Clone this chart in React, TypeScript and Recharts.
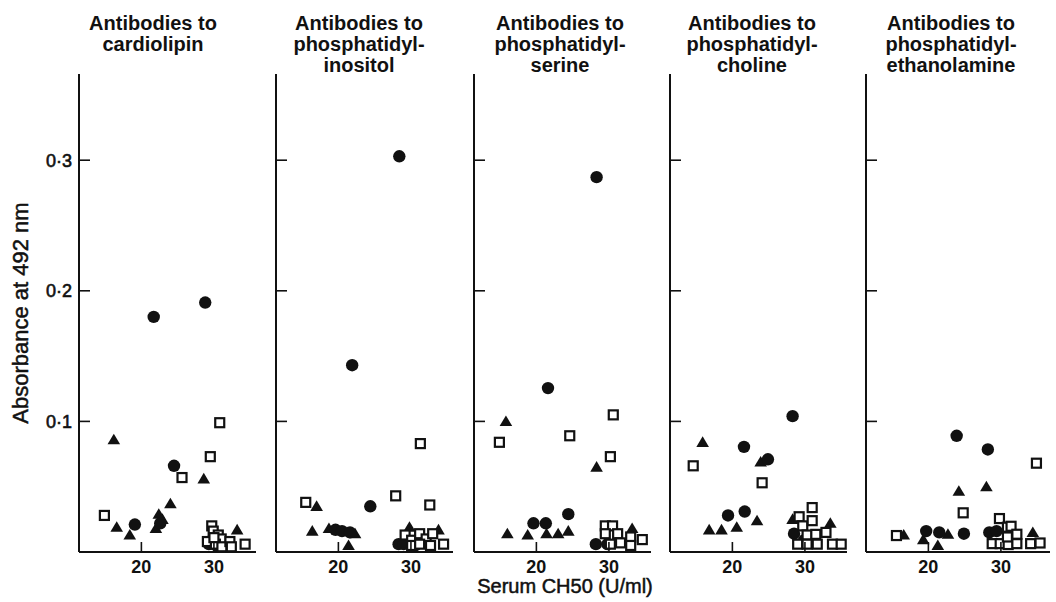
import React from "react";
import { ScatterChart, Scatter, XAxis, YAxis } from "recharts";

type Pt = { x: number; y: number };

// values: x = serum CH50 (U/ml), y = absorbance at 492 nm
const cardiolipinCircles: Pt[] = [
  { x: 21.7, y: 0.18 }, { x: 28.8, y: 0.191 }, { x: 24.5, y: 0.066 }, { x: 19.1, y: 0.021 },
  { x: 22.6, y: 0.022 }, { x: 29.3, y: 0.006 }, { x: 30.3, y: 0.005 }, { x: 31.2, y: 0.007 },
];
const cardiolipinTriangles: Pt[] = [
  { x: 16.2, y: 0.086 }, { x: 28.6, y: 0.056 }, { x: 16.6, y: 0.019 }, { x: 18.4, y: 0.013 },
  { x: 22.0, y: 0.018 }, { x: 22.4, y: 0.029 }, { x: 22.9, y: 0.025 }, { x: 24.0, y: 0.037 },
  { x: 33.2, y: 0.017 }, { x: 29.6, y: 0.012 }, { x: 30.5, y: 0.008 },
];
const cardiolipinSquares: Pt[] = [
  { x: 30.8, y: 0.099 }, { x: 29.5, y: 0.073 }, { x: 25.6, y: 0.057 }, { x: 14.9, y: 0.028 },
  { x: 34.3, y: 0.006 }, { x: 29.7, y: 0.02 }, { x: 29.9, y: 0.016 }, { x: 30.6, y: 0.013 },
  { x: 31.0, y: 0.01 }, { x: 29.1, y: 0.008 }, { x: 30.2, y: 0.006 }, { x: 31.1, y: 0.004 },
  { x: 32.2, y: 0.008 }, { x: 32.4, y: 0.004 }, { x: 30.0, y: 0.011 },
];

const inositolCircles: Pt[] = [
  { x: 28.4, y: 0.303 }, { x: 21.9, y: 0.143 }, { x: 24.4, y: 0.035 }, { x: 19.6, y: 0.017 },
  { x: 20.5, y: 0.016 }, { x: 21.6, y: 0.015 }, { x: 28.3, y: 0.006 }, { x: 29.0, y: 0.006 },
  { x: 30.6, y: 0.005 },
];
const inositolTriangles: Pt[] = [
  { x: 17.0, y: 0.035 }, { x: 16.4, y: 0.016 }, { x: 18.7, y: 0.018 }, { x: 22.3, y: 0.014 },
  { x: 21.4, y: 0.005 }, { x: 29.8, y: 0.019 }, { x: 33.8, y: 0.017 },
];
const inositolSquares: Pt[] = [
  { x: 31.3, y: 0.083 }, { x: 27.9, y: 0.043 }, { x: 32.6, y: 0.036 }, { x: 15.5, y: 0.038 },
  { x: 29.2, y: 0.013 }, { x: 30.1, y: 0.009 }, { x: 31.2, y: 0.014 }, { x: 32.1, y: 0.01 },
  { x: 33.0, y: 0.014 }, { x: 30.1, y: 0.005 }, { x: 31.2, y: 0.006 }, { x: 32.7, y: 0.005 },
  { x: 34.5, y: 0.006 },
];

const serineCircles: Pt[] = [
  { x: 28.3, y: 0.287 }, { x: 21.6, y: 0.1255 }, { x: 19.6, y: 0.022 }, { x: 21.3, y: 0.022 },
  { x: 24.4, y: 0.029 }, { x: 28.2, y: 0.006 }, { x: 29.8, y: 0.006 },
];
const serineTriangles: Pt[] = [
  { x: 15.8, y: 0.1 }, { x: 28.3, y: 0.065 }, { x: 16.0, y: 0.014 }, { x: 18.8, y: 0.013 },
  { x: 21.4, y: 0.014 }, { x: 23.0, y: 0.014 }, { x: 24.4, y: 0.016 }, { x: 33.2, y: 0.018 },
];
const serineSquares: Pt[] = [
  { x: 30.6, y: 0.105 }, { x: 14.9, y: 0.084 }, { x: 24.6, y: 0.089 }, { x: 30.2, y: 0.073 },
  { x: 29.5, y: 0.02 }, { x: 30.5, y: 0.02 }, { x: 29.5, y: 0.014 }, { x: 31.2, y: 0.014 },
  { x: 30.2, y: 0.006 }, { x: 31.6, y: 0.007 }, { x: 33.0, y: 0.0115 }, { x: 34.6, y: 0.0095 },
  { x: 33.0, y: 0.005 },
];

const cholineCircles: Pt[] = [
  { x: 28.3, y: 0.104 }, { x: 21.6, y: 0.0805 }, { x: 24.9, y: 0.071 }, { x: 19.4, y: 0.028 },
  { x: 21.7, y: 0.031 }, { x: 28.5, y: 0.014 }, { x: 29.9, y: 0.009 },
];
const cholineTriangles: Pt[] = [
  { x: 15.9, y: 0.084 }, { x: 23.9, y: 0.069 }, { x: 16.8, y: 0.017 }, { x: 18.5, y: 0.017 },
  { x: 20.6, y: 0.019 }, { x: 23.4, y: 0.024 }, { x: 28.3, y: 0.025 }, { x: 33.5, y: 0.022 },
];
const cholineSquares: Pt[] = [
  { x: 14.6, y: 0.066 }, { x: 24.1, y: 0.053 }, { x: 31.0, y: 0.034 }, { x: 29.2, y: 0.027 },
  { x: 29.7, y: 0.02 }, { x: 31.0, y: 0.024 }, { x: 30.3, y: 0.013 }, { x: 31.5, y: 0.0135 },
  { x: 32.9, y: 0.015 }, { x: 29.0, y: 0.006 }, { x: 30.3, y: 0.006 }, { x: 31.7, y: 0.006 },
  { x: 33.8, y: 0.006 }, { x: 35.0, y: 0.006 },
];

const ethanolamineCircles: Pt[] = [
  { x: 23.9, y: 0.089 }, { x: 28.2, y: 0.0785 }, { x: 19.7, y: 0.016 }, { x: 21.5, y: 0.015 },
  { x: 24.9, y: 0.014 }, { x: 28.4, y: 0.015 }, { x: 29.4, y: 0.016 },
];
const ethanolamineTriangles: Pt[] = [
  { x: 24.2, y: 0.0465 }, { x: 28.0, y: 0.05 }, { x: 16.6, y: 0.013 }, { x: 19.3, y: 0.0095 },
  { x: 22.7, y: 0.0136 }, { x: 21.3, y: 0.005 }, { x: 34.4, y: 0.015 },
];
const ethanolamineSquares: Pt[] = [
  { x: 34.9, y: 0.068 }, { x: 24.8, y: 0.03 }, { x: 15.6, y: 0.0126 }, { x: 29.8, y: 0.0256 },
  { x: 30.9, y: 0.019 }, { x: 31.4, y: 0.0197 }, { x: 32.2, y: 0.0136 }, { x: 28.8, y: 0.0064 },
  { x: 29.9, y: 0.0064 }, { x: 31.0, y: 0.0057 }, { x: 32.2, y: 0.0064 }, { x: 34.1, y: 0.0064 },
  { x: 35.4, y: 0.0069 }, { x: 30.9, y: 0.0115 },
];

const xTicks = [20, 30];
const yTicks = [0.1, 0.2, 0.3];

const FONT = '"Liberation Sans", Arial, Helvetica, sans-serif';
const INK = "#111";

// 7.254 px per U/ml, x axis starts at 11.4
const panels = [
  { title: ["Antibodies to", "cardiolipin"], axisX: 79, titleX: 153, plotW: 177, xMax: 35.8, circles: cardiolipinCircles, triangles: cardiolipinTriangles, squares: cardiolipinSquares },
  { title: ["Antibodies to", "phosphatidyl-", "inositol"], axisX: 276, titleX: 359, plotW: 177, xMax: 35.8, circles: inositolCircles, triangles: inositolTriangles, squares: inositolSquares },
  { title: ["Antibodies to", "phosphatidyl-", "serine"], axisX: 474, titleX: 560, plotW: 177, xMax: 35.8, circles: serineCircles, triangles: serineTriangles, squares: serineSquares },
  { title: ["Antibodies to", "phosphatidyl-", "choline"], axisX: 670, titleX: 752, plotW: 177, xMax: 35.8, circles: cholineCircles, triangles: cholineTriangles, squares: cholineSquares },
  { title: ["Antibodies to", "phosphatidyl-", "ethanolamine"], axisX: 866, titleX: 951, plotW: 184, xMax: 36.77, circles: ethanolamineCircles, triangles: ethanolamineTriangles, squares: ethanolamineSquares },
];

const Dot = (p: any) => <circle cx={p.cx} cy={p.cy} r={6.2} fill={INK} />;
const Tri = (p: any) => (
  <path d={`M${p.cx},${p.cy - 6} L${p.cx + 6.3},${p.cy + 4.6} L${p.cx - 6.3},${p.cy + 4.6} Z`} fill={INK} />
);
const Box = (p: any) => (
  <rect x={p.cx - 4.5} y={p.cy - 4.5} width={9} height={9} fill="#fff" stroke={INK} strokeWidth={2.2} />
);

const YTick = (showLabel: boolean) => (p: any) => (
  <g>
    <line x1={p.x} x2={p.x + 11} y1={p.y} y2={p.y} stroke={INK} strokeWidth={1.6} />
    {showLabel && (
      <text
        x={p.x - 7}
        y={p.y}
        dy="0.36em"
        textAnchor="end"
        fontFamily={FONT}
        fontSize={18}
        fill={INK}
        stroke={INK}
        strokeWidth={0.6}
      >
        {p.payload.value.toFixed(1).replace(".", "\u00b7")}
      </text>
    )}
  </g>
);

const XTick = (p: any) => (
  <g>
    <line x1={p.x} x2={p.x} y1={p.y} y2={p.y - 10} stroke={INK} strokeWidth={1.6} />
    <text x={p.x} y={p.y + 21} textAnchor="middle" fontFamily={FONT} fontSize={18} fontWeight="bold" fill={INK}>
      {p.payload.value}
    </text>
  </g>
);

const LEFT = 78;
const PAD_R = 24;

export default function App() {
  return (
    <div style={{ position: "absolute", left: 0, top: 0, width: 1056, height: 602, background: "#fff", overflow: "hidden" }}>
      {panels.map((pn, i) => (
        <React.Fragment key={i}>
          <div
            style={{
              position: "absolute",
              left: pn.titleX - 100,
              width: 200,
              top: 12.6,
              textAlign: "center",
              fontFamily: FONT,
              fontSize: 20,
              fontWeight: "bold",
              lineHeight: "21px",
              color: INK,
            }}
          >
            {pn.title.map((t, j) => (
              <div key={j}>{t}</div>
            ))}
          </div>
          <div style={{ position: "absolute", left: pn.axisX - LEFT - 1, top: 0 }}>
            <ScatterChart
              width={LEFT + 1 + pn.plotW + PAD_R}
              height={602}
              margin={{ top: 74, right: PAD_R, bottom: 49, left: LEFT }}
            >
              <XAxis
                type="number"
                dataKey="x"
                domain={[11.4, pn.xMax]}
                ticks={xTicks}
                allowDataOverflow
                height={1}
                tickSize={0}
                tickMargin={0}
                tickLine={false}
                axisLine={{ stroke: INK, strokeWidth: 2 }}
                tick={XTick}
                label={
                  i === 2
                    ? (lp: any) => (
                        <text
                          x={lp.viewBox.x + 91}
                          y={593}
                          textAnchor="middle"
                          fontFamily={FONT}
                          fontSize={20}
                          fill={INK}
                          stroke={INK}
                          strokeWidth={0.5}
                        >
                          Serum CH50 (U/ml)
                        </text>
                      )
                    : undefined
                }
              />
              <YAxis
                type="number"
                dataKey="y"
                domain={[0, 0.366]}
                ticks={yTicks}
                allowDataOverflow
                width={1}
                tickSize={0}
                tickMargin={0}
                tickLine={false}
                axisLine={{ stroke: INK, strokeWidth: 2 }}
                tick={YTick(i === 0)}
                label={
                  i === 0
                    ? (lp: any) => {
                        const cx = lp.viewBox.x - 58;
                        const cy = lp.viewBox.y + lp.viewBox.height / 2;
                        return (
                          <text
                            x={cx}
                            y={cy}
                            dy="0.36em"
                            transform={`rotate(-90 ${cx} ${cy})`}
                            textAnchor="middle"
                            fontFamily={FONT}
                            fontSize={22}
                            fill={INK}
                            stroke={INK}
                            strokeWidth={0.5}
                          >
                            Absorbance at 492 nm
                          </text>
                        );
                      }
                    : undefined
                }
              />
              <Scatter data={pn.triangles} shape={Tri} isAnimationActive={false} />
              <Scatter data={pn.circles} shape={Dot} isAnimationActive={false} />
              <Scatter data={pn.squares} shape={Box} isAnimationActive={false} />
            </ScatterChart>
          </div>
        </React.Fragment>
      ))}
    </div>
  );
}
